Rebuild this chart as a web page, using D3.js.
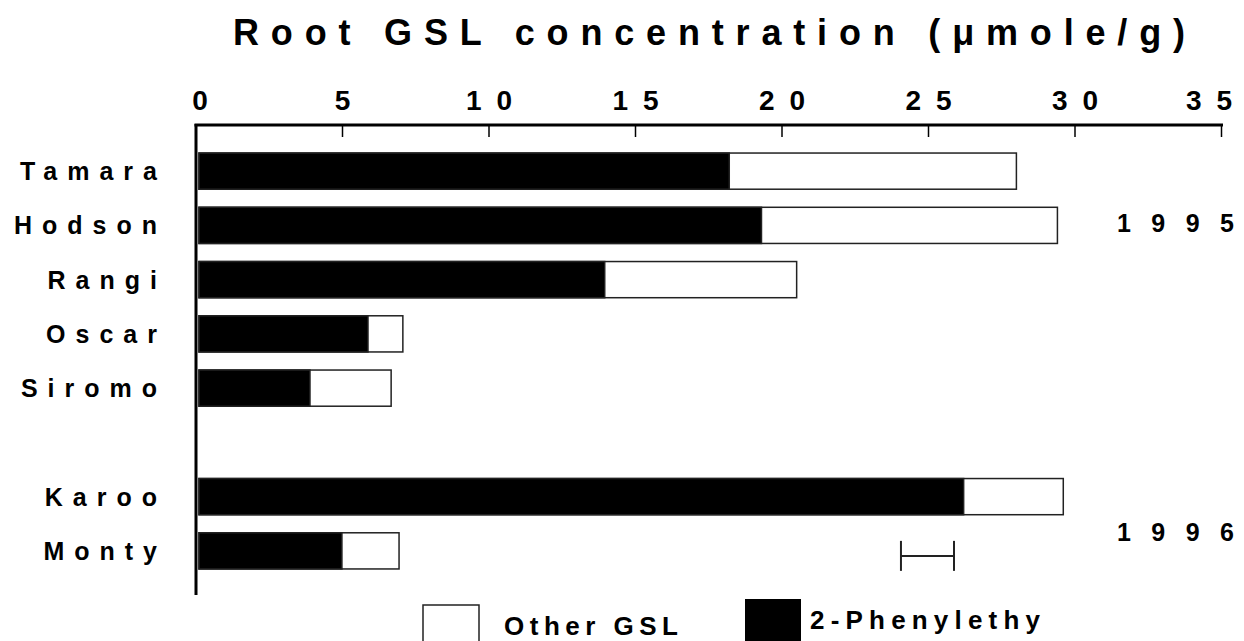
<!DOCTYPE html>
<html>
<head>
<meta charset="utf-8">
<script src="https://cdn.jsdelivr.net/npm/d3@7"></script>
<style>
  html, body { margin: 0; padding: 0; background: #fff; }
  svg { display: block; }
  text { font-family: "Liberation Sans", Arial, Helvetica, sans-serif; font-weight: bold; fill: #000; }
</style>
</head>
<body>
<svg id="chart" width="1244" height="641"></svg>
<script>
// ---- data ----
const categories = ["Tamara", "Hodson", "Rangi", "Oscar", "Siromo", "", "Karoo", "Monty"];
const phenylethyl = [18.2, 19.3, 13.95, 5.87, 3.89, null, 26.2, 4.98];   // black segment
const totalGSL    = [28.0, 29.4, 20.5, 7.06, 6.66, null, 29.6, 6.93];     // bar end
const xTicks = [0, 5, 10, 15, 20, 25, 30, 35];
const years = ["1995", "1996"];
const yearRows = [["Hodson"], ["Karoo", "Monty"]];
const errorBar = [24.06, 25.87];   // LSD bar
const seriesNames = ["Other GSL", "2-Phenylethy"];
const titleText = "Root GSL concentration (\u03BCmole/g)";

// ---- layout ----
const W = 1244;
const svg = d3.select("#chart");
const x = d3.scaleLinear().domain([0, 35]).range([196, 1221.5]);
const slotKeys = categories.map((c, i) => c === "" ? "gap" + i : c);
const y = d3.scaleBand().domain(slotKeys).range([144, 578]).paddingInner(1 / 3).paddingOuter(1 / 6);

// title
svg.append("text")
  .attr("x", 233).attr("y", 45)
  .attr("font-size", 36)
  .attr("textLength", 952).attr("lengthAdjust", "spacing")
  .text(titleText);

// top axis labels (wide-spaced digits, kept inside the page)
svg.selectAll(".tl").data(xTicks).join("text")
  .attr("class", "tl")
  .attr("x", d => Math.min(x(d) + (d === 0 ? 4 : 0), W - 35))
  .attr("y", 110)
  .attr("text-anchor", "middle")
  .attr("font-size", 28)
  .attr("textLength", d => String(d).length > 1 ? 46 : null)
  .attr("lengthAdjust", "spacing")
  .text(d => d);

svg.append("line").attr("x1", 194.5).attr("x2", x(35) + 1.5).attr("y1", 125).attr("y2", 125)
  .attr("stroke", "#000").attr("stroke-width", 3);
svg.selectAll(".tk").data(xTicks.slice(1)).join("line")
  .attr("x1", d => x(d)).attr("x2", d => x(d)).attr("y1", 125).attr("y2", 137)
  .attr("stroke", "#000").attr("stroke-width", 1.5);

// left axis
svg.append("line").attr("x1", x(0)).attr("x2", x(0)).attr("y1", 124).attr("y2", 595)
  .attr("stroke", "#000").attr("stroke-width", 3);

// bars
const rows = categories.map((c, i) => ({ key: slotKeys[i], name: c, black: phenylethyl[i], total: totalGSL[i] }))
  .filter(d => d.name !== "");
const x0 = x(0) + 3;
svg.selectAll(".other").data(rows).join("rect")
  .attr("x", x0).attr("y", d => y(d.key))
  .attr("width", d => x(d.total) - x0).attr("height", y.bandwidth())
  .attr("fill", "#fff").attr("stroke", "#222").attr("stroke-width", 1.5);
svg.selectAll(".phen").data(rows).join("rect")
  .attr("x", x0).attr("y", d => y(d.key))
  .attr("width", d => x(d.black) - x0).attr("height", y.bandwidth())
  .attr("fill", "#000").attr("stroke", "#222").attr("stroke-width", 1.5);

// category labels
svg.selectAll(".lab").data(rows).join("text")
  .attr("x", 157).attr("y", d => y(d.key) + y.bandwidth() / 2 + 9)
  .attr("text-anchor", "end").attr("font-size", 25)
  .text(d => d.name)
  .each(function () {
    const n = this.textContent.length;
    const w = this.getComputedTextLength();
    d3.select(this).attr("textLength", w + (n - 1) * 10).attr("lengthAdjust", "spacing");
  });

// year labels
years.forEach((yr, i) => {
  const ks = yearRows[i];
  const cy = d3.mean(ks, k => y(k) + y.bandwidth() / 2);
  svg.append("text").attr("x", 1117).attr("y", cy + (ks.length > 1 ? 17 : 7))
    .attr("font-size", 25)
    .attr("textLength", 117).attr("lengthAdjust", "spacing")
    .text(yr);
});

// error bar
const ey = y("Monty") + y.bandwidth() / 2 + 5;
const eg = svg.append("g").attr("stroke", "#222").attr("stroke-width", 2);
eg.append("line").attr("x1", x(errorBar[0])).attr("x2", x(errorBar[1])).attr("y1", ey).attr("y2", ey);
errorBar.forEach(v => eg.append("line").attr("x1", x(v)).attr("x2", x(v)).attr("y1", ey - 15).attr("y2", ey + 15));

// legend
svg.append("rect").attr("x", 423).attr("y", 605).attr("width", 56).attr("height", 50)
  .attr("fill", "#fff").attr("stroke", "#222").attr("stroke-width", 1.5);
svg.append("text").attr("x", 504).attr("y", 635).attr("font-size", 26)
  .attr("textLength", 174).attr("lengthAdjust", "spacing").text(seriesNames[0]);
svg.append("rect").attr("x", 745).attr("y", 599).attr("width", 56).attr("height", 50)
  .attr("fill", "#000");
svg.append("text").attr("x", 810).attr("y", 629).attr("font-size", 26)
  .attr("textLength", 230).attr("lengthAdjust", "spacing").text(seriesNames[1]);
</script>
</body>
</html>
